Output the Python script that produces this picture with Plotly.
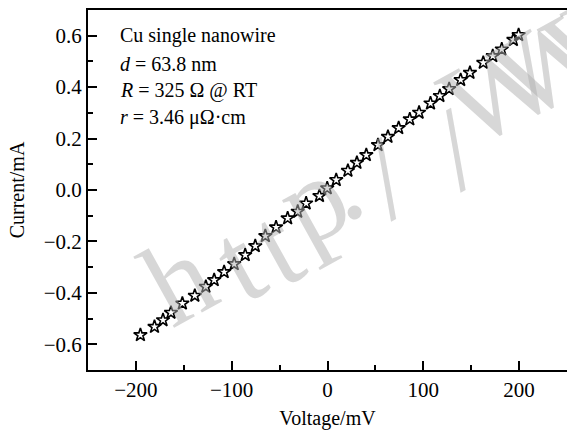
import plotly.graph_objects as go

voltage_mV = [-195.3, -180.6, -171.7, -163.4, -151.5, -138.5, -127.0, -118.3, -107.9, -97.4,
              -85.9, -75.4, -64.9, -53.7, -41.6, -31.1, -22.3, -8.4, -0.3, 9.1,
              21.3, 30.7, 40.5, 52.7, 63.1, 74.3, 85.9, 95.6, 107.5, 117.3,
              127.0, 139.0, 148.7, 162.6, 172.5, 181.9, 194.0, 199.5]
current_mA = [-0.564, -0.532, -0.506, -0.477, -0.441, -0.411, -0.376, -0.350, -0.319, -0.288,
              -0.253, -0.218, -0.179, -0.145, -0.110, -0.084, -0.052, -0.023, 0.007, 0.039,
              0.075, 0.106, 0.136, 0.175, 0.207, 0.241, 0.275, 0.301, 0.337, 0.366,
              0.393, 0.428, 0.456, 0.495, 0.521, 0.547, 0.584, 0.603]

info_lines = ["Cu single nanowire",
              "<i>d</i> = 63.8 nm",
              "<i>R</i> = 325 Ω @ RT",
              "<i>r</i> = 3.46 μΩ·cm"]
x_title = "Voltage/mV"
y_title = "Current/mA"
watermark_chars = ["h", "t", "t", "p", ".", "/", "/", "W", "W", "W"]

FONT = "Liberation Serif"
W, H = 567, 430
ML, MR, MT, MB = 88, 0, 10, 60
PW, PH = W - ML - MR, H - MT - MB


def paper(px, py):
    return (px - ML) / PW, 1 - (py - MT) / PH


fig = go.Figure()
fig.add_trace(go.Scatter(
    x=voltage_mV, y=current_mA, mode="markers",
    marker=dict(symbol="star-open", size=10, color="black", line=dict(width=1.6, color="black")),
    showlegend=False,
))

anns = []
wm_pos = [(178, 280), (238, 262), (276, 246), (312, 200), (338, 182),
          (385, 178), (455, 150), (500, 88), (552, 62), (604, 36)]
for ch, (px, py) in zip(watermark_chars, wm_pos):
    xp, yp = paper(px, py)
    anns.append(dict(text=ch, x=xp, y=yp, xref="paper", yref="paper",
                     xanchor="center", yanchor="middle", showarrow=False, textangle=-29,
                     font=dict(family=FONT, size=118, color="rgba(175,175,175,0.5)")))

ys = [0.928, 0.851, 0.776, 0.701]
for t, yy in zip(info_lines, ys):
    anns.append(dict(text=t, x=0.062, y=yy, xref="paper", yref="paper",
                     xanchor="left", yanchor="middle", showarrow=False,
                     font=dict(family=FONT, size=20, color="black")))

fig.update_layout(
    width=W, height=H,
    margin=dict(l=ML, r=MR, t=MT, b=MB, autoexpand=False),
    paper_bgcolor="white", plot_bgcolor="white",
    font=dict(family=FONT, size=21, color="black"),
    annotations=anns,
    xaxis=dict(range=[-250, 250], dtick=100, tick0=0, ticks="inside", ticklen=9, tickwidth=1.5,
               tickcolor="black", showline=True, linecolor="black", linewidth=2, mirror=True,
               showgrid=False, zeroline=False, automargin=False,
               minor=dict(dtick=50, ticks="inside", ticklen=5, tickwidth=1.5, tickcolor="black"),
               title=dict(text=x_title, font=dict(family=FONT, size=20), standoff=19),
               tickfont=dict(family=FONT, size=21)),
    yaxis=dict(range=[-0.7, 0.7], dtick=0.2, tick0=0, tickformat=".1f", ticks="inside", ticklen=9,
               tickwidth=1.5, tickcolor="black", showline=True, linecolor="black", linewidth=2,
               mirror=False, showgrid=False, zeroline=False, automargin=False,
               minor=dict(dtick=0.1, ticks="inside", ticklen=5, tickwidth=1.5, tickcolor="black"),
               title=dict(text=y_title, font=dict(family=FONT, size=20), standoff=14),
               tickfont=dict(family=FONT, size=21)),
)

fig.write_html("out.html")
